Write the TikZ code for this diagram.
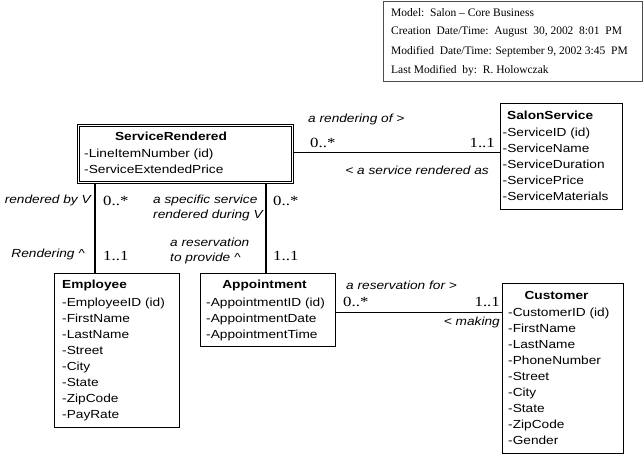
\documentclass[tikz,border=0pt]{standalone}
\usepackage{fontspec}
\setmainfont[FakeStretch=1.17]{Liberation Sans}
\newfontfamily\multfont[FakeStretch=1.2]{Liberation Serif}
\newfontfamily\infofont{Liberation Serif}
\begin{document}
\begin{tikzpicture}[x=1pt,y=-1pt,
  ent/.style={draw=black, line width=1.4pt, anchor=north west, inner sep=0pt, fill=white},
  ttl/.style={inner sep=0pt, font=\fontsize{11.7}{16}\selectfont\bfseries},
  attr/.style={anchor=north west, inner sep=0pt, align=left, font=\fontsize{11.7}{16}\selectfont},
  lbl/.style={inner sep=0pt, font=\fontsize{11.7}{15.5}\selectfont\itshape},
  mult/.style={inner sep=0pt, font=\multfont\fontsize{14}{15}\selectfont},
  conn/.style={draw=black, line width=1.4pt},
  info/.style={inner sep=0pt, anchor=west, font=\infofont\fontsize{11.5}{12}\selectfont}]
\useasboundingbox (0,0) rectangle (643,457);
% info box
\node[draw=black!70, line width=0.8pt, anchor=north west, minimum width=259pt, minimum height=80pt, inner sep=0pt] (infobox) at (382.5,1.5) {};
\node[info] (i1) at (391,13) {Model:\ \ Salon – Core Business};
\node[info] (i2) at (391,32) {Creation\ \ Date/Time:\ \ August\ \ 30, 2002\ \ 8:01\ \ PM};
\node[info] (i3) at (391,52) {Modified\ \ Date/Time: September 9, 2002 3:45\ \ PM};
\node[info] (i4) at (391,71) {Last Modified\ \ by:\ \ R. Holowczak};
% ServiceRendered
\node[draw=black, double, double distance=1.4pt, line width=0.8pt, anchor=north west, minimum width=214pt, minimum height=57pt, inner sep=0pt] (sr) at (78,125) {};
\node[ttl] (srt) at (171,136) {ServiceRendered};
\node[attr] (sra) at (84,148.5) {-LineItemNumber (id)\\-ServiceExtendedPrice};
% SalonService
\node[ent, minimum width=122pt, minimum height=106pt] (ss) at (500,103) {};
\node[ttl, anchor=west] (sst) at (507,115) {SalonService};
\node[attr] (ssa) at (502.5,127.5) {-ServiceID (id)\\-ServiceName\\-ServiceDuration\\-ServicePrice\\-ServiceMaterials};
% Employee
\node[ent, minimum width=125pt, minimum height=154pt] (emp) at (54,273) {};
\node[ttl, anchor=west] (empt) at (62,285) {Employee};
\node[attr] (empa) at (62,297.5) {-EmployeeID (id)\\-FirstName\\-LastName\\-Street\\-City\\-State\\-ZipCode\\-PayRate};
% Appointment
\node[ent, minimum width=135pt, minimum height=73pt] (app) at (200,273) {};
\node[ttl] (appt) at (264.5,285) {Appointment};
\node[attr] (appa) at (206,297.5) {-AppointmentID (id)\\-AppointmentDate\\-AppointmentTime};
% Customer
\node[ent, minimum width=121pt, minimum height=170pt] (cus) at (502,283) {};
\node[ttl] (cust) at (556.5,295) {Customer};
\node[attr] (cusa) at (508,307.5) {-CustomerID (id)\\-FirstName\\-LastName\\-PhoneNumber\\-Street\\-City\\-State\\-ZipCode\\-Gender};
% connectors
\draw[conn] ([yshift=1.5pt]sr.east) -- ([yshift=1.5pt]sr.east -| ss.west);
\draw[conn] ([xshift=17pt]sr.south west) -- ([xshift=17pt]sr.south west |- emp.north);
\draw[conn] ([xshift=-27pt]sr.south east) -- ([xshift=-27pt]sr.south east |- app.north);
\draw[conn] ([yshift=-2.5pt]app.east) -- ([yshift=-2.5pt]app.east -| cus.west);
% labels SR-SS
\node[lbl, anchor=west] (l1) at (308,119) {a rendering of >};
\node[mult, anchor=west] (m1) at (310,143) {0..*};
\node[mult, anchor=east] (m2) at (495,143) {1..1};
\node[lbl, anchor=east] (l2) at (489,170) {< a service rendered as};
% labels SR-Emp
\node[lbl, anchor=east] (l3) at (91,200) {rendered by V};
\node[mult, anchor=west] (m3) at (103,201) {0..*};
\node[lbl, anchor=east] (l4) at (85,254) {Rendering \^{}};
\node[mult, anchor=west] (m4) at (103,256) {1..1};
% labels SR-App
\node[lbl, anchor=west, align=left] (l5) at (153,208) {a specific service\\rendered during V};
\node[mult, anchor=west] (m5) at (273,201) {0..*};
\node[lbl, anchor=west, align=left] (l6) at (170,251) {a reservation\\to provide \^{}};
\node[mult, anchor=west] (m6) at (273,256) {1..1};
% labels App-Cus
\node[lbl, anchor=west] (l7) at (346,285) {a reservation for >};
\node[mult, anchor=west] (m7) at (343,302) {0..*};
\node[mult, anchor=east] (m8) at (500,302) {1..1};
\node[lbl, anchor=east] (l8) at (500,322) {< making};
\end{tikzpicture}
\end{document}
